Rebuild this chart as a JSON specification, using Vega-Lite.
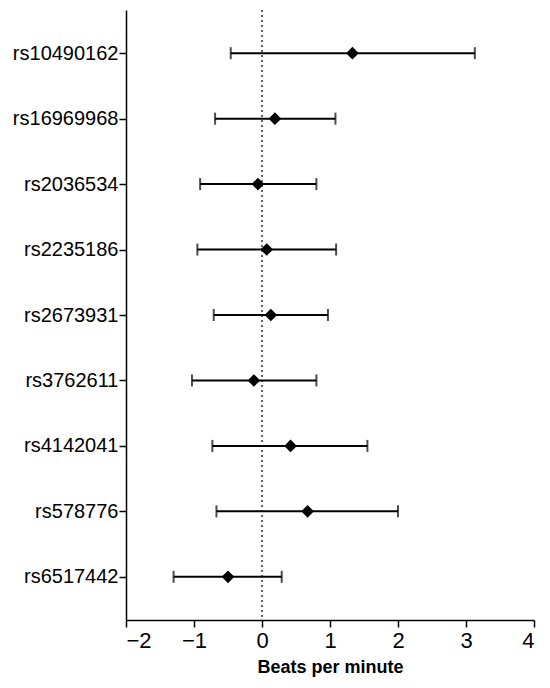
{
  "$schema": "https://vega.github.io/schema/vega-lite/v6.json",
  "autosize": {"type": "none"},
  "padding": {"left": 126, "top": 10, "right": 16, "bottom": 68},
  "width": 408,
  "height": 610,
  "background": "white",
  "config": {
    "view": {"stroke": null},
    "font": "Liberation Sans"
  },
  "data": {
    "values": [
      {"snp": "rs10490162", "est": 1.33, "lo": -0.46, "hi": 3.13},
      {"snp": "rs16969968", "est": 0.19, "lo": -0.69, "hi": 1.08},
      {"snp": "rs2036534", "est": -0.06, "lo": -0.91, "hi": 0.8},
      {"snp": "rs2235186", "est": 0.07, "lo": -0.95, "hi": 1.09},
      {"snp": "rs2673931", "est": 0.13, "lo": -0.71, "hi": 0.97},
      {"snp": "rs3762611", "est": -0.12, "lo": -1.03, "hi": 0.8},
      {"snp": "rs4142041", "est": 0.42, "lo": -0.73, "hi": 1.55},
      {"snp": "rs578776", "est": 0.67, "lo": -0.67, "hi": 2.0},
      {"snp": "rs6517442", "est": -0.5, "lo": -1.3, "hi": 0.29}
    ]
  },
  "encoding": {
    "y": {
      "field": "snp", "type": "nominal", "sort": null,
      "scale": {"type": "point", "padding": 0.66},
      "axis": {
        "title": null, "labelFontSize": 20, "labelColor": "black",
        "tickSize": 7, "tickWidth": 1.5, "tickColor": "black",
        "domainColor": "black", "domainWidth": 1.5, "labelPadding": 1
      }
    }
  },
  "layer": [
    {
      "data": {"values": [{"z": 0}]},
      "mark": {"type": "rule", "strokeDash": [2, 3], "strokeWidth": 1.5, "color": "#333"},
      "encoding": {"x": {"field": "z", "type": "quantitative"}, "y": null}
    },
    {
      "mark": {"type": "rule", "strokeWidth": 2, "color": "black"},
      "encoding": {
        "x": {
          "field": "lo", "type": "quantitative",
          "scale": {"domain": [-2, 4], "nice": false, "zero": false},
          "axis": {
            "title": "Beats per minute", "values": [-2, -1, 0, 1, 2, 3, 4], "format": "d",
            "grid": false, "labelFontSize": 22, "labelColor": "black",
            "tickSize": 7, "tickWidth": 1.5, "tickColor": "black",
            "domainColor": "black", "domainWidth": 1.5, "labelPadding": 3,
            "titleFontSize": 18, "titleFontWeight": "bold", "titleColor": "black",
            "titlePadding": 7
          }
        },
        "x2": {"field": "hi"}
      }
    },
    {
      "mark": {"type": "tick", "size": 12, "thickness": 2, "color": "black"},
      "encoding": {"x": {"field": "lo", "type": "quantitative"}}
    },
    {
      "mark": {"type": "tick", "size": 12, "thickness": 2, "color": "black"},
      "encoding": {"x": {"field": "hi", "type": "quantitative"}}
    },
    {
      "mark": {"type": "point", "shape": "diamond", "filled": true, "size": 160, "color": "black", "opacity": 1},
      "encoding": {"x": {"field": "est", "type": "quantitative"}}
    }
  ]
}
